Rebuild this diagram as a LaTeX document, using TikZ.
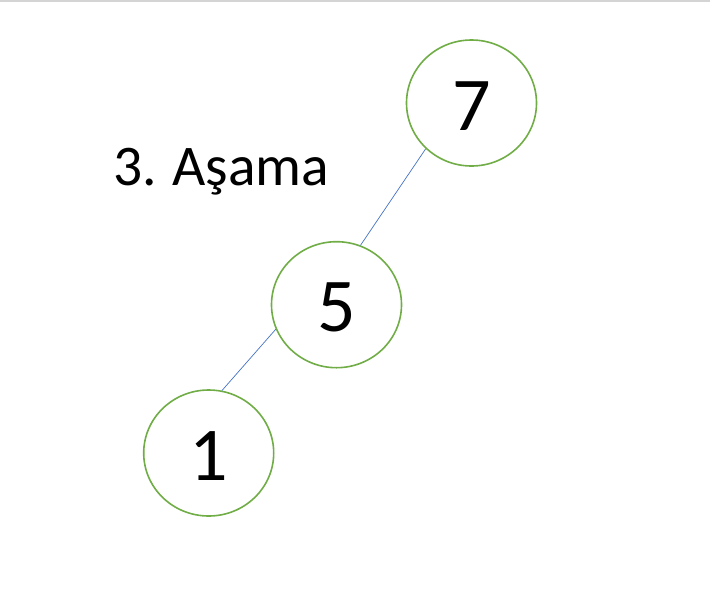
\documentclass[tikz,border=0pt]{standalone}
\usepackage{fontspec}
\setmainfont{Carlito}
\usetikzlibrary{shapes.geometric}
\definecolor{keygreen}{HTML}{70AD47}
\definecolor{linkblue}{HTML}{4472C4}

\begin{document}
\begin{tikzpicture}[x=1pt, y=-1pt,
        key/.style={ellipse, draw=keygreen, line width=1.6pt, minimum width=130pt, minimum height=126pt,
            inner sep=0pt, text height=54pt, text depth=0pt, font=\fontsize{76}{76}\selectfont},
        link/.style={linkblue, line width=0.7pt}]
        \useasboundingbox (0,0) rectangle (710,606);
        \fill[black!17] (0,0) rectangle (710,2);
        \node[anchor=base west, font=\fontsize{57.5}{60}\selectfont] (title) at (110,185) {3.\kern-2pt{} Aşama};
        \node[key] (k7) at (471.5,103) {7};
        \node[key] (k5) at (336.5,304.7) {5};
        \node[key] (k1) at (208.7,453) {1};
        \draw[link] (k7.225) -- (k5.68);
        \draw[link] (k5.202) -- (k1.78);
    \end{tikzpicture}
\end{document}
